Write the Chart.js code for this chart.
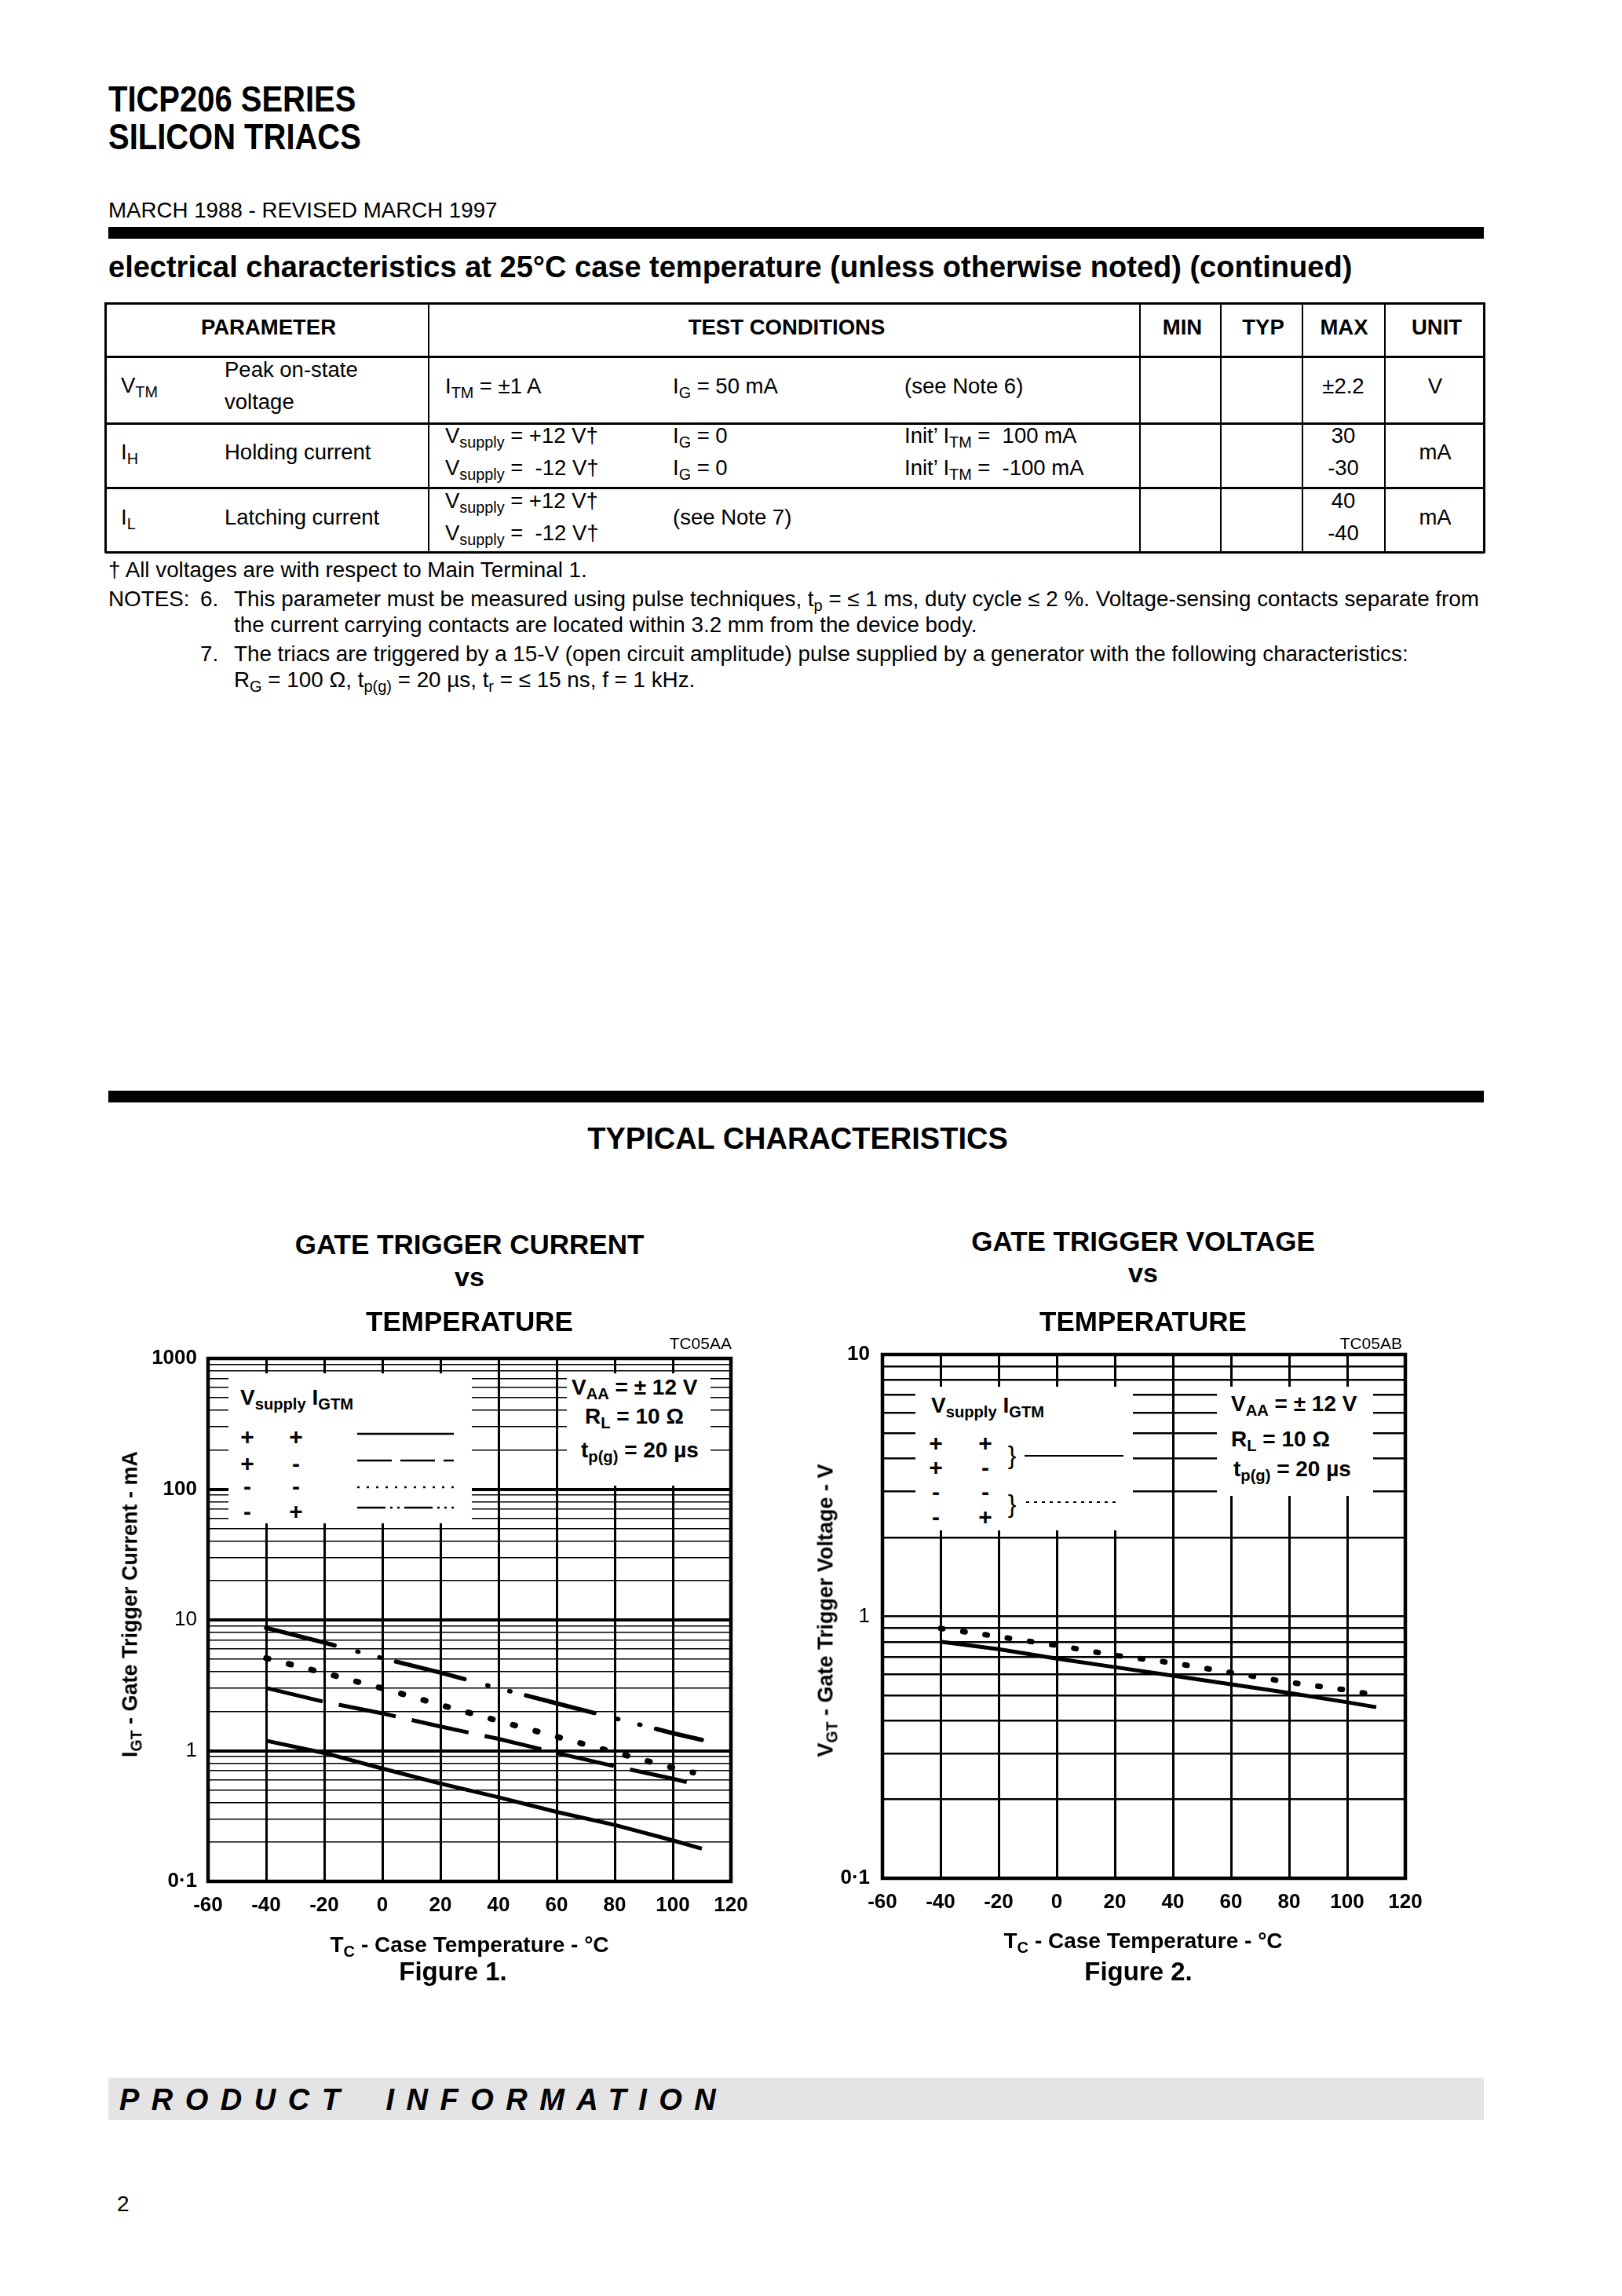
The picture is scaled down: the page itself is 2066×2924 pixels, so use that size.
<!DOCTYPE html>
<html><head><meta charset="utf-8">
<script src="https://cdn.jsdelivr.net/npm/chart.js@4.4.1/dist/chart.umd.min.js"></script>
<style>
html,body{margin:0;padding:0;background:#fff;}
body{width:2066px;height:2924px;position:relative;overflow:hidden;font-family:'Liberation Sans',Arial,Helvetica,sans-serif;color:#000;}
.a{position:absolute;white-space:nowrap;line-height:1;}
sub{font-size:0.72em;vertical-align:-0.32em;line-height:0;}
.r{position:absolute;background:#000;}
.w{position:absolute;background:#fff;}
.cw{position:absolute;}
</style></head><body>
<div class="cw" id="w1" style="left:100px;top:1700px;width:880px;height:780px;"><canvas id="c1"></canvas></div>
<div class="cw" id="w2" style="left:1000px;top:1690px;width:880px;height:790px;"><canvas id="c2"></canvas></div>
<script>
// ---------------- DATA ----------------
// Figure 1: gate trigger current (mA) vs case temperature (°C)
const tempsIGT      = [-40, -20, 0, 20, 40, 60, 80, 100, 110];
const tempsIGTshort = [-40, -20, 0, 20, 40, 60, 80, 100, 107];
const igtPlusPlus   = [1.19, 0.96, 0.73, 0.56, 0.44, 0.34, 0.27, 0.206, 0.178];   // Vsupply +, IGTM +
const igtPlusMinus  = [3.02, 2.36, 1.93, 1.53, 1.23, 0.96, 0.76, 0.61, 0.56];     // Vsupply +, IGTM -
const igtMinusMinus = [5.1, 3.93, 3.0, 2.24, 1.69, 1.28, 0.97, 0.74, 0.68];       // Vsupply -, IGTM -
const igtMinusPlus  = [8.7, 6.7, 5.1, 3.95, 3.0, 2.30, 1.77, 1.36, 1.21];         // Vsupply -, IGTM +
// Figure 2: gate trigger voltage (V) vs case temperature (°C)
const tempsVGT      = [-40, -20, 0, 20, 40, 60, 80, 100, 110];
const tempsVGTshort = [-40, -20, 0, 20, 40, 60, 80, 100, 107];
const vgtPlus       = [0.80, 0.75, 0.69, 0.64, 0.594, 0.55, 0.51, 0.47, 0.45];    // ++ and +-
const vgtMinus      = [0.90, 0.837, 0.775, 0.71, 0.664, 0.61, 0.56, 0.523, 0.507]; // -- and -+
// axis tick labels
const xTickStep = 20;
const xMin = -60, xMax = 120;
const yLabels1 = [0.1, 1, 10, 100, 1000];
const yLabels2 = [0.1, 1, 10];

// ---------------- helpers ----------------
const FONT = "'Liberation Sans', Arial, Helvetica, sans-serif";
function T(x, base, size, html, o) {
  o = o || {};
  const d = document.createElement('div');
  d.className = 'a';
  d.style.fontSize = size + 'px';
  d.style.top = (base - 0.8465 * size) + 'px';
  d.style.left = x + 'px';
  if (o.b) d.style.fontWeight = 'bold';
  if (o.i) d.style.fontStyle = 'italic';
  if (o.ls) d.style.letterSpacing = o.ls + 'px';
  if (o.ws) d.style.wordSpacing = o.ws + 'px';
  let tr = '';
  if (o.al === 'c') tr += 'translateX(-50%) ';
  if (o.al === 'r') tr += 'translateX(-100%) ';
  if (o.sx) { tr += 'scaleX(' + o.sx + ')'; d.style.transformOrigin = 'left top'; }
  if (tr) d.style.transform = tr;
  d.innerHTML = html;
  document.body.appendChild(d);
  return d;
}
function Rot(cx, cy, size, html) {
  const d = document.createElement('div');
  d.className = 'a';
  d.style.fontSize = size + 'px';
  d.style.fontWeight = 'bold';
  d.style.left = cx + 'px';
  d.style.top = cy + 'px';
  d.style.transform = 'translate(-50%,-50%) rotate(-90deg)';
  d.innerHTML = html;
  document.body.appendChild(d);
}
function Rect(x, y, w, h, cls, bg) {
  const d = document.createElement('div');
  d.className = cls || 'r';
  d.style.left = x + 'px'; d.style.top = y + 'px';
  d.style.width = w + 'px'; d.style.height = h + 'px';
  if (bg) d.style.background = bg;
  document.body.appendChild(d);
  return d;
}
function Seg(x1, x2, y, dash, w) {
  const ns = 'http://www.w3.org/2000/svg';
  const s = document.createElementNS(ns, 'svg');
  s.setAttribute('width', x2 - x1 + 4);
  s.setAttribute('height', 10);
  s.style.position = 'absolute';
  s.style.left = x1 + 'px';
  s.style.top = (y - 5) + 'px';
  const l = document.createElementNS(ns, 'line');
  l.setAttribute('x1', 0); l.setAttribute('x2', x2 - x1);
  l.setAttribute('y1', 5); l.setAttribute('y2', 5);
  l.setAttribute('stroke', '#000');
  l.setAttribute('stroke-width', w || 2.5);
  if (dash) l.setAttribute('stroke-dasharray', dash);
  s.appendChild(l);
  document.body.appendChild(s);
}

// ---------------- page header ----------------
T(138, 142, 47, 'TICP206 SERIES', {b: 1, sx: 0.85});
T(138, 190, 47, 'SILICON TRIACS', {b: 1, sx: 0.85});
T(138, 277, 27.7, 'MARCH 1988 - REVISED MARCH 1997');
Rect(138, 289, 1752, 15);
T(138, 353, 38, 'electrical characteristics at 25°C case temperature (unless otherwise noted) (continued)', {b: 1});

// ---------------- table ----------------
const tL = 134, tR = 1891, tT = 386, tB = 704;
Rect(tL, tT - 1, tR - tL, 3);
Rect(tL, tB - 2, tR - tL, 3);
Rect(tL - 1, tT - 1, 3, tB - tT + 1);
Rect(tR - 2, tT - 1, 3, tB - tT + 1);
[454, 539, 621].forEach(y => Rect(tL, y - 1, tR - tL, 3));
[546, 1452, 1555, 1659, 1764].forEach(x => Rect(x - 1, tT, 2, tB - tT));
const H = {b: 1, al: 'c'};
const F = 27.5;
T(342, 426, F, 'PARAMETER', H);
T(1002, 426, F, 'TEST CONDITIONS', H);
T(1506, 426, F, 'MIN', H);
T(1609, 426, F, 'TYP', H);
T(1712, 426, F, 'MAX', H);
T(1830, 426, F, 'UNIT', H);
T(154, 500, F, 'V<sub>TM</sub>');
T(286, 480, F, 'Peak on-state');
T(286, 521, F, 'voltage');
T(567, 501, F, 'I<sub>TM</sub> = ±1 A');
T(857, 501, F, 'I<sub>G</sub> = 50 mA');
T(1152, 501, F, '(see Note 6)');
T(1711, 501, F, '±2.2', {al: 'c'});
T(1828, 501, F, 'V', {al: 'c'});
T(154, 585, F, 'I<sub>H</sub>');
T(286, 585, F, 'Holding current');
T(567, 564, F, 'V<sub>supply</sub> = +12 V†');
T(567, 605, F, 'V<sub>supply</sub> = &nbsp;-12 V†');
T(857, 564, F, 'I<sub>G</sub> = 0');
T(857, 605, F, 'I<sub>G</sub> = 0');
T(1152, 564, F, 'Init’ I<sub>TM</sub> = &nbsp;100 mA');
T(1152, 605, F, 'Init’ I<sub>TM</sub> = &nbsp;-100 mA');
T(1711, 564, F, '30', {al: 'c'});
T(1711, 605, F, '-30', {al: 'c'});
T(1828, 585, F, 'mA', {al: 'c'});
T(154, 668, F, 'I<sub>L</sub>');
T(286, 668, F, 'Latching current');
T(567, 647, F, 'V<sub>supply</sub> = +12 V†');
T(567, 688, F, 'V<sub>supply</sub> = &nbsp;-12 V†');
T(857, 668, F, '(see Note 7)');
T(1711, 647, F, '40', {al: 'c'});
T(1711, 688, F, '-40', {al: 'c'});
T(1828, 668, F, 'mA', {al: 'c'});

// notes
const FN = 27.8;
T(138, 736, FN, '† All voltages are with respect to Main Terminal 1.');
T(138, 773, FN, 'NOTES:');
T(255, 773, FN, '6.');
T(298, 773, FN, 'This parameter must be measured using pulse techniques, t<sub>p</sub> = ≤ 1 ms, duty cycle ≤ 2 %. Voltage-sensing contacts separate from');
T(298, 806, FN, 'the current carrying contacts are located within 3.2 mm from the device body.');
T(255, 843, FN, '7.');
T(298, 843, FN, 'The triacs are triggered by a 15-V (open circuit amplitude) pulse supplied by a generator with the following characteristics:');
T(298, 876, FN, 'R<sub>G</sub> = 100 Ω, t<sub>p(g)</sub> = 20 µs, t<sub>r</sub> = ≤ 15 ns, f = 1 kHz.');

// ---------------- typical characteristics ----------------
Rect(138, 1389, 1752, 15);
T(1016, 1463, 38, 'TYPICAL CHARACTERISTICS', {b: 1, al: 'c'});

T(598, 1597, 35, 'GATE TRIGGER CURRENT', {b: 1, al: 'c'});
T(598, 1638, 34, 'vs', {b: 1, al: 'c'});
T(598, 1695, 35, 'TEMPERATURE', {b: 1, al: 'c'});
T(932, 1718, 21, 'TC05AA', {al: 'r'});

T(1456, 1593, 35, 'GATE TRIGGER VOLTAGE', {b: 1, al: 'c'});
T(1456, 1633, 34, 'vs', {b: 1, al: 'c'});
T(1456, 1695, 35, 'TEMPERATURE', {b: 1, al: 'c'});
T(1786, 1718, 21, 'TC05AB', {al: 'r'});

T(598, 2487, 28, 'T<sub>C</sub> - Case Temperature - °C', {b: 1, al: 'c'});
T(1456, 2482, 28, 'T<sub>C</sub> - Case Temperature - °C', {b: 1, al: 'c'});
T(577, 2522, 33, 'Figure 1.', {b: 1, al: 'c'});
T(1450, 2522, 33, 'Figure 2.', {b: 1, al: 'c'});
Rot(166, 2043, 27, 'I<sub>GT</sub> - Gate Trigger Current - mA');
Rot(1052, 2051, 27, 'V<sub>GT</sub> - Gate Trigger Voltage - V');

Rect(138, 2646, 1752, 54, 'r', '#e4e4e4');
T(152, 2687, 38, 'PRODUCT INFORMATION', {b: 1, i: 1, ls: 15.5, ws: 17});
T(149, 2817, 28, '2');

// ---------------- charts ----------------
const framePlugin = {
  id: 'frame',
  afterDraw(c) {
    const a = c.chartArea, x = c.ctx;
    x.save(); x.lineWidth = 4.5; x.strokeStyle = '#000';
    x.strokeRect(a.left, a.top, a.right - a.left, a.bottom - a.top);
    x.restore();
  }
};
function pts(xs, ys) { return xs.map((t, i) => ({x: t, y: ys[i]})); }
function isDecade(v) { const l = Math.log10(v); return Math.abs(l - Math.round(l)) < 1e-6; }
function logTicks(lo, hi) {
  const out = [];
  for (let e = Math.round(Math.log10(lo)); e < Math.round(Math.log10(hi)); e++) {
    for (let m = 1; m < 10; m++) out.push(+(m * Math.pow(10, e)).toPrecision(6));
  }
  out.push(hi);
  return out;
}
function lbl(v, labels) {
  for (const L of labels) if (Math.abs(v - L) / L < 1e-6) return L === 0.1 ? '0·1' : String(L);
  return '';
}
function ds(xs, ys, o) {
  return Object.assign({data: pts(xs, ys), borderColor: '#000', borderWidth: 5, pointRadius: 0,
    tension: 0, fill: false, borderCapStyle: 'butt'}, o);
}
function xScale(pad) {
  return {
    type: 'linear', min: xMin, max: xMax,
    ticks: {stepSize: xTickStep, color: '#000', padding: pad, maxRotation: 0, autoSkip: false,
      font: {family: FONT, size: 26, weight: 'bold'}},
    grid: {color: '#000', lineWidth: 3, drawTicks: false},
    border: {display: false}
  };
}

Chart.defaults.font.family = FONT;
const c1 = new Chart(document.getElementById('c1'), {
  type: 'line',
  data: {datasets: [
    ds(tempsIGT, igtPlusPlus, {}),
    ds(tempsIGTshort, igtPlusMinus, {borderDash: [74, 21]}),
    ds(tempsIGTshort, igtMinusMinus, {borderDash: [3, 26.6], borderWidth: 7.5, borderCapStyle: 'round'}),
    ds(tempsIGT, igtMinusPlus, {borderDash: [90, 30, 1.5, 27.5, 1.5, 20.5], borderWidth: 5.5, borderCapStyle: 'round'})
  ]},
  options: {
    responsive: true, maintainAspectRatio: false, animation: false, devicePixelRatio: 1,
    layout: {padding: {left: 0, right: 49, top: 30, bottom: 0}},
    plugins: {legend: {display: false}, tooltip: {enabled: false}},
    scales: {
      x: Object.assign(xScale(15), {afterFit: s => { s.height = 84; }}),
      y: {
        type: 'logarithmic', min: 0.1, max: 1000,
        afterBuildTicks: s => { s.ticks = logTicks(0.1, 1000).map(v => ({value: v})); },
        afterFit: s => { s.width = 165; },
        ticks: {
          color: '#000', padding: 14, autoSkip: false,
          callback: v => lbl(v, yLabels1),
          font: ctx => ({family: FONT, size: 26,
            weight: (ctx.tick && (Math.abs(ctx.tick.value - 10) < 1e-6 || Math.abs(ctx.tick.value - 1) < 1e-6)) ? 'normal' : 'bold'})
        },
        grid: {color: '#000', drawTicks: false,
          lineWidth: ctx => (ctx.tick && isDecade(ctx.tick.value)) ? 4 : 1.6},
        border: {display: false}
      }
    }
  },
  plugins: [framePlugin]
});

const c2 = new Chart(document.getElementById('c2'), {
  type: 'line',
  data: {datasets: [
    ds(tempsVGT, vgtPlus, {}),
    ds(tempsVGTshort, vgtMinus, {borderDash: [3, 25.6], borderWidth: 7, borderCapStyle: 'round'})
  ]},
  options: {
    responsive: true, maintainAspectRatio: false, animation: false, devicePixelRatio: 1,
    layout: {padding: {left: 0, right: 90, top: 35, bottom: 0}},
    plugins: {legend: {display: false}, tooltip: {enabled: false}},
    scales: {
      x: Object.assign(xScale(15), {afterFit: s => { s.height = 88; }}),
      y: {
        type: 'logarithmic', min: 0.1, max: 10,
        afterBuildTicks: s => { s.ticks = logTicks(0.1, 10).map(v => ({value: v})); },
        afterFit: s => { s.width = 124; },
        ticks: {
          color: '#000', padding: 16, autoSkip: false,
          callback: v => lbl(v, yLabels2),
          font: ctx => ({family: FONT, size: 26,
            weight: (ctx.tick && Math.abs(ctx.tick.value - 1) < 1e-6) ? 'normal' : 'bold'})
        },
        grid: {color: '#000', drawTicks: false, lineWidth: 2.6},
        border: {display: false}
      }
    }
  },
  plugins: [framePlugin]
});

// ---------------- in-plot legends (white panels over the grid) ----------------
// Figure 1
Rect(291, 1749, 310, 191, 'w');
Rect(722, 1749, 183, 143, 'w');
T(306, 1790, 28, 'V<sub>supply</sub> I<sub>GTM</sub>', {b: 1});
const signRows1 = [1830, 1864, 1893, 1925];
const signs = [['+', '+'], ['+', '-'], ['-', '-'], ['-', '+']];
signRows1.forEach((y, i) => {
  T(315, y + 10, 30, signs[i][0], {b: 1, al: 'c'});
  T(377, y + 10, 30, signs[i][1], {b: 1, al: 'c'});
});
Seg(455, 578, 1826, null, 2.5);
Seg(455, 578, 1860, '44 11', 2.5);
Seg(455, 578, 1894, '3 9', 2.5);
Seg(455, 578, 1920, '36 6 3 6 3 6', 2.5);
T(728, 1777, 28, 'V<sub>AA</sub> = ± 12 V', {b: 1});
T(745, 1814, 28, 'R<sub>L</sub> = 10 Ω', {b: 1});
T(740, 1857, 28, 't<sub>p(g)</sub> = 20 µs', {b: 1});
// Figure 2
Rect(1166, 1766, 277, 183, 'w');
Rect(1550, 1766, 199, 139, 'w');
T(1186, 1800, 28, 'V<sub>supply</sub> I<sub>GTM</sub>', {b: 1});
const signRows2 = [1838, 1869, 1900, 1932];
signRows2.forEach((y, i) => {
  T(1192, y + 10, 30, signs[i][0], {b: 1, al: 'c'});
  T(1255, y + 10, 30, signs[i][1], {b: 1, al: 'c'});
});
T(1289, 1864, 32, '}', {al: 'c'});
T(1289, 1926, 32, '}', {al: 'c'});
Seg(1305, 1431, 1854, null, 2);
Seg(1307, 1427, 1913, '4 6', 2);
T(1568, 1798, 28, 'V<sub>AA</sub> = ± 12 V', {b: 1});
T(1568, 1843, 28, 'R<sub>L</sub> = 10 Ω', {b: 1});
T(1571, 1881, 28, 't<sub>p(g)</sub> = 20 µs', {b: 1});
</script>
</body></html>
